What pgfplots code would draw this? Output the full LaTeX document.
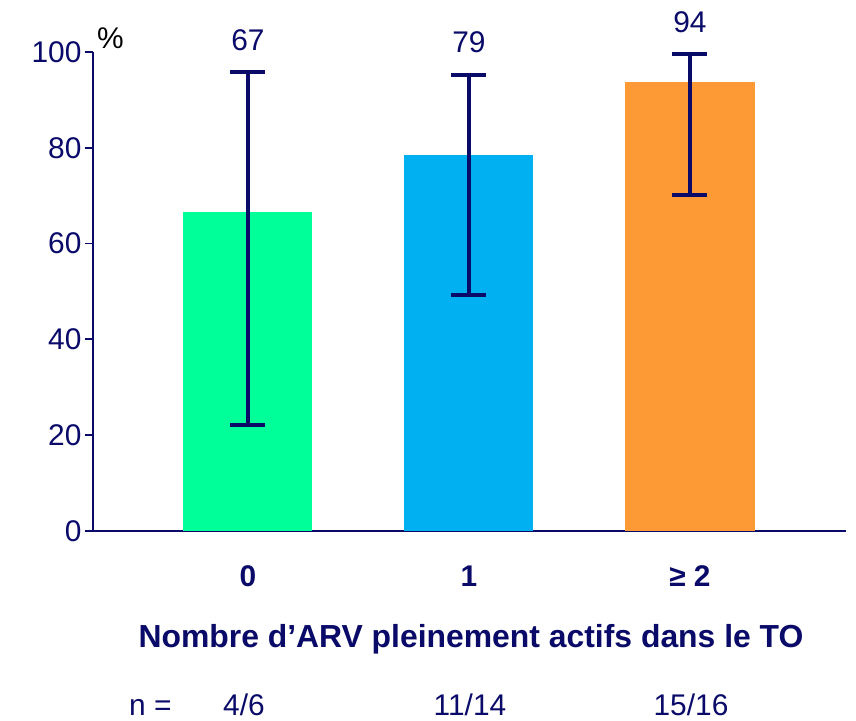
\documentclass[border=0pt]{standalone}
\usepackage{pgfplots}
\pgfplotsset{compat=1.18}
\usepackage{fontspec}
\setmainfont{Liberation Sans}
\definecolor{navy}{RGB}{10,10,105}
\definecolor{mint}{RGB}{0,255,153}
\definecolor{sky}{RGB}{0,176,240}
\definecolor{orng}{RGB}{253,154,53}
\newcommand\bigf{\fontsize{30}{35}\selectfont}
\begin{document}
\begin{tikzpicture}
\begin{axis}[
  at={(0,0)}, anchor=south west,
  scale only axis, width=753bp, height=479bp,
  xmin=-0.701, xmax=2.706, ymin=0, ymax=100,
  ybar, bar width=0.584, bar shift=0pt,
  axis x line=bottom, axis y line=left,
  axis line style={-, line width=1.8bp, draw=navy},
  ytick={0,20,40,60,80,100},
  xtick={0,1,2}, xticklabels={0,1,≥ 2},
  xtick style={draw=none},
  ytick style={line width=1.8bp, draw=navy},
  major tick length=8bp, tick align=outside,
  /pgf/number format/assume math mode=true,
  yticklabel style={font=\bigf, text=navy},
  xticklabel style={font=\bfseries\fontsize{30}{35}\selectfont, text=navy, anchor=base, yshift=-48bp},
  clip=false,
  enlargelimits=false,
  error bars/error bar style={line width=4bp, draw=navy},
  error bars/error mark options={rotate=90, mark size=17.5bp, line width=4bp, draw=navy},
]
\addplot[fill=mint, draw=none, error bars/.cd, y dir=both, y explicit]
  coordinates {(0,66.7) += (0,29.1) -= (0,44.6)};
\addplot[fill=sky, draw=none, error bars/.cd, y dir=both, y explicit]
  coordinates {(1,78.6) += (0,16.6) -= (0,29.3)};
\addplot[fill=orng, draw=none, error bars/.cd, y dir=both, y explicit]
  coordinates {(2,93.75) += (0,5.75) -= (0,23.65)};
\node[font=\bigf, text=navy, anchor=base, yshift=22bp] at (axis cs:0,95.8) {67};
\node[font=\bigf, text=navy, anchor=base, yshift=22bp] at (axis cs:1,95.2) {79};
\node[font=\bigf, text=navy, anchor=base, yshift=22bp] at (axis cs:2,99.5) {94};
\end{axis}
\node[font=\bigf, text=black, anchor=base west, inner sep=0pt] at (4bp,482bp) {\%};
\node[font=\bfseries\fontsize{32}{37}\selectfont, text=navy, anchor=base, inner sep=0pt] at (378bp,-116bp) {Nombre d’ARV pleinement actifs dans le TO};
\node[font=\bigf, text=navy, anchor=base west, inner sep=0pt] at (36bp,-184bp) {n =};
\node[font=\bigf, text=navy, anchor=base, inner sep=0pt] at (151bp,-184bp) {4/6};
\node[font=\bigf, text=navy, anchor=base, inner sep=0pt] at (377bp,-184bp) {11/14};
\node[font=\bigf, text=navy, anchor=base, inner sep=0pt] at (598bp,-184bp) {15/16};
\pgfresetboundingbox
\path[use as bounding box] (-93bp,-190bp) rectangle (763bp,531bp);
\end{tikzpicture}
\end{document}
